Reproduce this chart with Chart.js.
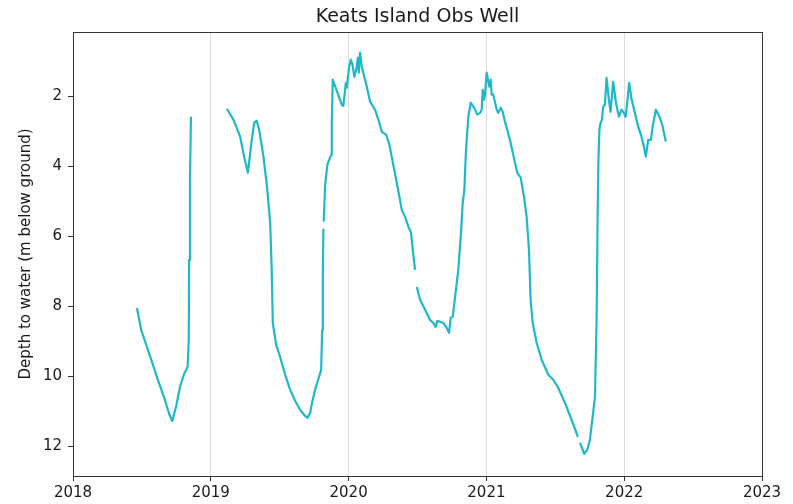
<!DOCTYPE html>
<html>
<head>
<meta charset="utf-8">
<script src="https://cdn.jsdelivr.net/npm/chart.js@4.4.1/dist/chart.umd.min.js"></script>
<style>
  html, body { margin: 0; padding: 0; background: #ffffff; }
  #wrap { width: 793px; height: 504px; }
</style>
</head>
<body>
<div id="wrap"><canvas id="c" width="793" height="504"></canvas></div>
<script>
// ---- Data (decimal year, depth to water in m below ground) ----
const chartTitle = "Keats Island Obs Well";
const yAxisLabel = "Depth to water (m below ground)";
const xTickYears = [2018, 2019, 2020, 2021, 2022, 2023];
const yTickValues = [2, 4, 6, 8, 10, 12];

const years2018 = [2018.464, 2018.495, 2018.539, 2018.582, 2018.626, 2018.669, 2018.698, 2018.720, 2018.749, 2018.778, 2018.807, 2018.832, 2018.840, 2018.843, 2018.849, 2018.856];
const depths2018 = [8.04, 8.67, 9.18, 9.69, 10.21, 10.69, 11.07, 11.27, 10.84, 10.27, 9.92, 9.72, 8.95, 6.67, 4.38, 2.58];

const years2019 = [2019.117, 2019.165, 2019.213, 2019.242, 2019.269, 2019.293, 2019.315, 2019.333, 2019.351, 2019.382, 2019.409, 2019.431, 2019.442, 2019.450, 2019.474, 2019.503, 2019.540, 2019.576, 2019.612, 2019.648, 2019.677, 2019.701, 2019.721, 2019.735, 2019.757, 2019.779, 2019.801, 2019.808, 2019.813, 2019.817];
const depths2019 = [2.35, 2.67, 3.15, 3.72, 4.18, 3.38, 2.75, 2.69, 2.95, 3.72, 4.61, 5.61, 6.95, 8.47, 9.09, 9.44, 9.95, 10.38, 10.69, 10.95, 11.09, 11.18, 11.04, 10.75, 10.38, 10.09, 9.81, 8.67, 7.24, 5.78];

const years2020a = [2019.819, 2019.830, 2019.846, 2019.873, 2019.878, 2019.885, 2019.917, 2019.951, 2019.962, 2019.980, 2019.987, 2020.004, 2020.016, 2020.028, 2020.042, 2020.059, 2020.067, 2020.074, 2020.083, 2020.096, 2020.132, 2020.156, 2020.192, 2020.223, 2020.241, 2020.272, 2020.296, 2020.321, 2020.350, 2020.386, 2020.410, 2020.434, 2020.453, 2020.466, 2020.482];
const depths2020a = [5.58, 4.52, 3.95, 3.67, 2.75, 1.52, 1.87, 2.24, 2.27, 1.61, 1.75, 1.15, 0.95, 1.09, 1.44, 1.15, 0.89, 1.32, 0.75, 1.15, 1.72, 2.15, 2.38, 2.75, 3.01, 3.09, 3.38, 3.89, 4.47, 5.24, 5.44, 5.72, 5.89, 6.38, 6.95];

const years2020b = [2020.495, 2020.519, 2020.555, 2020.591, 2020.615, 2020.632, 2020.644, 2020.669, 2020.687, 2020.712, 2020.729, 2020.741, 2020.756, 2020.772, 2020.796, 2020.816, 2020.828, 2020.840, 2020.852, 2020.869, 2020.886, 2020.910, 2020.934, 2020.954, 2020.966, 2020.973, 2020.983, 2020.990, 2021.002, 2021.014, 2021.021, 2021.031, 2021.038, 2021.050, 2021.075, 2021.086, 2021.104, 2021.118, 2021.135, 2021.171, 2021.207, 2021.224, 2021.249, 2021.273, 2021.292, 2021.309, 2021.321, 2021.336, 2021.365, 2021.401, 2021.449, 2021.485, 2021.521, 2021.570, 2021.619, 2021.664];
const depths2020b = [7.44, 7.81, 8.09, 8.38, 8.47, 8.58, 8.41, 8.44, 8.47, 8.61, 8.75, 8.32, 8.29, 7.75, 6.95, 5.89, 5.04, 4.67, 3.52, 2.58, 2.18, 2.32, 2.52, 2.47, 2.38, 1.81, 2.09, 1.95, 1.32, 1.58, 1.72, 1.52, 1.95, 1.95, 2.38, 2.47, 2.32, 2.44, 2.72, 3.24, 3.89, 4.18, 4.32, 4.87, 5.44, 6.38, 7.81, 8.47, 9.04, 9.52, 9.95, 10.09, 10.32, 10.75, 11.24, 11.72];

const years2021 = [2021.679, 2021.710, 2021.732, 2021.751, 2021.771, 2021.788, 2021.800, 2021.807, 2021.813, 2021.820, 2021.829, 2021.838, 2021.848, 2021.860, 2021.872, 2021.889, 2021.901, 2021.920, 2021.940, 2021.962, 2021.981, 2021.998, 2022.010, 2022.022, 2022.036, 2022.054, 2022.078, 2022.102, 2022.126, 2022.143, 2022.157, 2022.174, 2022.194, 2022.206, 2022.230, 2022.259, 2022.276, 2022.302];
const depths2021 = [11.89, 12.21, 12.09, 11.81, 11.15, 10.58, 8.29, 5.44, 3.81, 2.95, 2.75, 2.67, 2.29, 2.23, 1.47, 2.09, 2.44, 1.58, 2.18, 2.58, 2.38, 2.47, 2.58, 2.18, 1.61, 2.09, 2.47, 2.87, 3.15, 3.44, 3.72, 3.24, 3.24, 2.87, 2.38, 2.61, 2.81, 3.29];

// ---- Build dataset with gaps between recorded segments ----
const segments = [
  [years2018, depths2018],
  [years2019, depths2019],
  [years2020a, depths2020a],
  [years2020b, depths2020b],
  [years2021, depths2021]
];
const points = [];
segments.forEach(([ys, ds], si) => {
  if (si > 0) {
    const prev = segments[si - 1][0];
    points.push({ x: (prev[prev.length - 1] + ys[0]) / 2, y: null });
  }
  ys.forEach((yr, i) => points.push({ x: yr, y: ds[i] }));
});

const FONT = "'DejaVu Sans', sans-serif";
const TEXT = '#1a1a1a';
const AXIS = '#333333';

const frame = {
  id: 'frame',
  afterDatasetsDraw(chart) {
    const { ctx, chartArea: a } = chart;
    ctx.save();
    ctx.strokeStyle = AXIS;
    ctx.lineWidth = 1;
    ctx.strokeRect(Math.round(a.left) + 0.5, Math.round(a.top) + 0.5,
                   Math.round(a.right) - Math.round(a.left), Math.round(a.bottom) - Math.round(a.top));
    ctx.restore();
  }
};

new Chart(document.getElementById('c'), {
  type: 'line',
  data: {
    datasets: [{
      data: points,
      borderColor: '#1db8cb',
      borderWidth: 2.2,
      pointRadius: 0,
      pointHoverRadius: 0,
      tension: 0,
      spanGaps: false,
      fill: false,
      borderJoinStyle: 'round'
    }]
  },
  options: {
    responsive: false,
    animation: false,
    devicePixelRatio: 1,
    layout: { padding: { left: 0, right: 31, top: 0, bottom: 0 } },
    plugins: {
      legend: { display: false },
      tooltip: { enabled: false },
      title: {
        display: true,
        fullSize: false,
        text: chartTitle,
        color: TEXT,
        font: { family: FONT, size: 19, weight: 'normal', lineHeight: 1 },
        padding: { top: 7.5, bottom: 5.5 }
      }
    },
    scales: {
      x: {
        type: 'linear',
        min: xTickYears[0],
        max: xTickYears[xTickYears.length - 1],
        afterFit(scale) { scale.height = 28; },
        afterBuildTicks(scale) { scale.ticks = xTickYears.map(v => ({ value: v })); },
        border: { display: false },
        grid: {
          drawOnChartArea: true,
          drawTicks: true,
          tickLength: 5,
          tickColor: AXIS,
          lineWidth: 1,
          color: ctx => (ctx.tick && (ctx.tick.value === 2018 || ctx.tick.value === 2023)) ? 'rgba(0,0,0,0)' : '#dcdcdc'
        },
        ticks: {
          autoSkip: false,
          maxRotation: 0,
          minRotation: 0,
          padding: 3,
          color: TEXT,
          font: { family: FONT, size: 15 },
          callback: v => String(v)
        }
      },
      y: {
        type: 'linear',
        reverse: true,
        min: 0.16,
        max: 12.84,
        afterFit(scale) { scale.width = 73; },
        afterBuildTicks(scale) { scale.ticks = yTickValues.map(v => ({ value: v })); },
        border: { display: false },
        grid: {
          drawOnChartArea: false,
          drawTicks: true,
          tickLength: 5,
          tickColor: AXIS,
          color: AXIS
        },
        ticks: {
          padding: 6,
          color: TEXT,
          font: { family: FONT, size: 15 },
          callback: v => String(v)
        },
        title: {
          display: true,
          text: yAxisLabel,
          color: TEXT,
          font: { family: FONT, size: 15, lineHeight: 1.2 },
          padding: { top: 17, bottom: 0 }
        }
      }
    }
  },
  plugins: [frame]
});
</script>
</body>
</html>
